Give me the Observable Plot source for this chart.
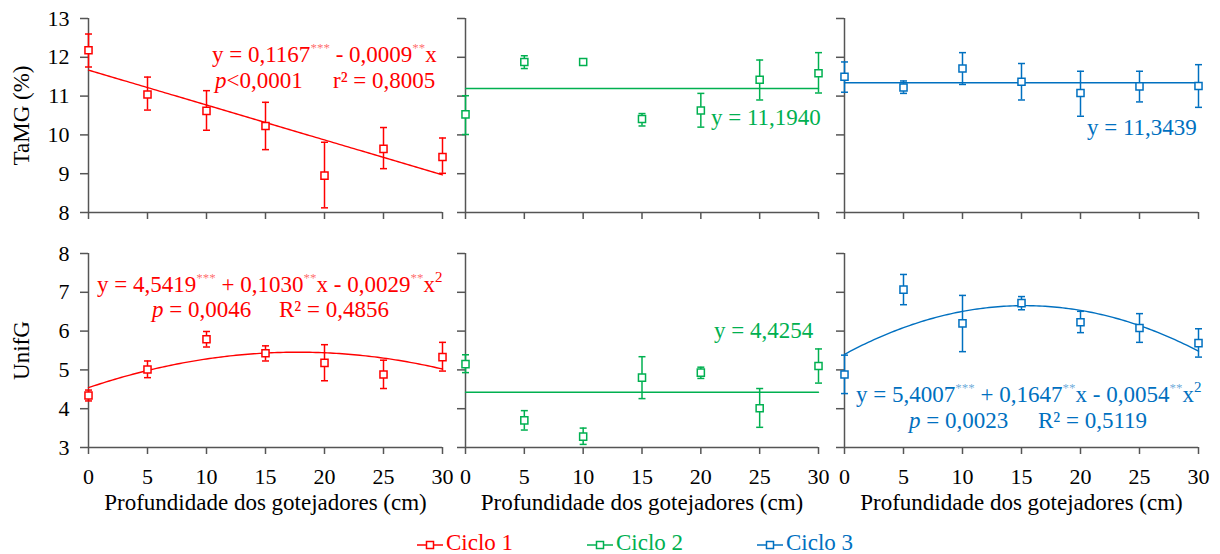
<!DOCTYPE html>
<html><head><meta charset="utf-8">
<script src="https://cdn.jsdelivr.net/npm/d3@7"></script>
<script src="https://cdn.jsdelivr.net/npm/@observablehq/plot@0.6"></script>
<style>
body{margin:0;background:#fff;}
#chart{position:relative;width:1220px;height:554px;overflow:hidden;font-family:"Liberation Serif","Times New Roman",serif;}
.panel{position:absolute;}
.leg{position:absolute;top:529px;height:28px;font-size:23px;line-height:28px;white-space:nowrap;}
.leg svg{vertical-align:middle;margin-right:3px;}
</style></head><body><div id="chart"></div>
<script>
// ---------- data ----------
const depth = [0, 5, 10, 15, 20, 25, 30];
const cycles = ["Ciclo 1", "Ciclo 2", "Ciclo 3"];
const cycleColors = ["#ff0000", "#00b050", "#0070c0"];
const variables = ["TaMG (%)", "UnifG"];
const xTitle = "Profundidade dos gotejadores (cm)";
const yTicksTaMG = [8, 9, 10, 11, 12, 13];
const yTicksUnifG = [3, 4, 5, 6, 7, 8];
const xTicks = [0, 5, 10, 15, 20, 25, 30];

// TaMG (%) means and error bar limits
const taMG_c1 = [12.18, 11.04, 10.62, 10.23, 8.95, 9.64, 9.43];
const taMG_c1_hi = [12.60, 11.49, 11.14, 10.84, 9.81, 10.19, 9.92];
const taMG_c1_lo = [11.75, 10.64, 10.12, 9.62, 8.12, 9.13, 9.01];
const taMG_c2 = [10.53, 11.88, 11.88, 10.41, 10.63, 11.42, 11.59];
const taMG_c2_hi = [11.01, 12.04, 11.96, 10.55, 11.07, 11.93, 12.12];
const taMG_c2_lo = [10.01, 11.71, 11.81, 10.23, 10.20, 10.90, 11.08];
const taMG_c3 = [11.50, 11.22, 11.71, 11.37, 11.08, 11.25, 11.26];
const taMG_c3_hi = [11.88, 11.39, 12.12, 11.84, 11.64, 11.64, 11.81];
const taMG_c3_lo = [11.10, 11.07, 11.30, 10.90, 10.48, 10.85, 10.71];

// UnifG means and error bar limits
const unifG_c1 = [4.34, 5.01, 5.79, 5.43, 5.18, 4.88, 5.33];
const unifG_c1_hi = [4.48, 5.23, 5.99, 5.62, 5.65, 5.25, 5.71];
const unifG_c1_lo = [4.20, 4.80, 5.59, 5.23, 4.72, 4.52, 4.97];
const unifG_c2 = [5.15, 3.70, 3.28, 4.80, 4.93, 4.01, 5.10];
const unifG_c2_hi = [5.39, 3.95, 3.50, 5.34, 5.07, 4.52, 5.54];
const unifG_c2_lo = [4.93, 3.45, 3.08, 4.26, 4.78, 3.52, 4.66];
const unifG_c3 = [4.88, 7.07, 6.20, 6.72, 6.23, 6.08, 5.69];
const unifG_c3_hi = [5.38, 7.46, 6.92, 6.89, 6.51, 6.45, 6.06];
const unifG_c3_lo = [4.39, 6.68, 5.47, 6.55, 5.96, 5.71, 5.33];

// fitted models: [intercept, linear, quadratic] (in plotted units)
const fitTaMG_c1 = [11.67, -0.09, 0];
const fitTaMG_c2 = [11.194, 0, 0];
const fitTaMG_c3 = [11.3439, 0, 0];
const fitUnifG_c1 = [4.5419, 0.1030, -0.0029];
const fitUnifG_c2 = [4.4254, 0, 0];
const fitUnifG_c3 = [5.4007, 0.1647, -0.0054];

// ---------- layout ----------
const cols = [
  {left: 0, ml: 88, mr: 10, pw: 354},
  {left: 450, ml: 15, mr: 10, pw: 353},
  {left: 828, ml: 16, mr: 22, pw: 354}
];
const rows = [
  {top: 0, mt: 18, ph: 194, mb: 14, domain: [8, 13], ticks: yTicksTaMG},
  {top: 235, mt: 18, ph: 194, mb: 76, domain: [3, 8], ticks: yTicksUnifG}
];
const series = [
  [[taMG_c1, taMG_c1_lo, taMG_c1_hi, fitTaMG_c1], [taMG_c2, taMG_c2_lo, taMG_c2_hi, fitTaMG_c2], [taMG_c3, taMG_c3_lo, taMG_c3_hi, fitTaMG_c3]],
  [[unifG_c1, unifG_c1_lo, unifG_c1_hi, fitUnifG_c1], [unifG_c2, unifG_c2_lo, unifG_c2_hi, fitUnifG_c2], [unifG_c3, unifG_c3_lo, unifG_c3_hi, fitUnifG_c3]]
];

// annotation texts (segments: [text, kind]) with their placement
const notes = [
  [
    [{x: 212, y: 62, segs: [["y = 0,1167"], ["***", "sup"], [" - 0,0009"], ["**", "sup"], ["x"]]},
     {x: 215, y: 88, segs: [["p", "i"], ["<0,0001"], ["r² = 0,8005", "at", 333]]}],
    [{x: 261, y: 125, segs: [["y = 11,1940"]]}],
    [{x: 259, y: 135, segs: [["y = 11,3439"]]}]
  ],
  [
    [{x: 97, y: 57, segs: [["y = 4,5419"], ["***", "sup"], [" + 0,1030"], ["**", "sup"], ["x - 0,0029"], ["**", "sup"], ["x"], ["2", "sup2"]]},
     {x: 152, y: 82, segs: [["p", "i"], [" = 0,0046"], ["R² = 0,4856", "at", 279]]}],
    [{x: 264, y: 103, segs: [["y = 4,4254"]]}],
    [{x: 28, y: 167, segs: [["y = 5,4007"], ["***", "sup"], [" + 0,1647"], ["**", "sup"], ["x - 0,0054"], ["**", "sup"], ["x"], ["2", "sup2"]]},
     {x: 81, y: 193, segs: [["p", "i"], [" = 0,0023"], ["R² = 0,5119", "at", 210]]}]
  ]
];

const axisColor = "#555";
const capSymbol = {
  draw(ctx, size) { const r = Math.sqrt(size / Math.PI); ctx.moveTo(-r, 0); ctx.lineTo(r, 0); }
};

const chart = document.getElementById("chart");

rows.forEach((row, ri) => {
  cols.forEach((col, ci) => {
    const [mean, lo, hi, fit] = series[ri][ci];
    const color = cycleColors[ci];
    const data = depth.map((x, i) => ({x, y: mean[i], lo: lo[i], hi: hi[i]}));
    const curve = d3.range(0, 30.0001, 0.25).map(x => ({x, y: fit[0] + fit[1] * x + fit[2] * x * x}));
    const svg = Plot.plot({
      width: col.ml + col.pw + col.mr,
      height: row.mt + row.ph + row.mb,
      marginLeft: col.ml, marginRight: col.mr, marginTop: row.mt, marginBottom: row.mb,
      style: {fontFamily: '"Liberation Serif","Times New Roman",serif', fontSize: "22px", background: "transparent", overflow: "visible", color: "#000"},
      x: {domain: [0, 30]},
      y: {domain: row.domain},
      marks: [
        Plot.axisY({ticks: row.ticks, tickSize: 8, tickPadding: 11, stroke: axisColor, strokeWidth: 1.5,
          tickFormat: ci === 0 ? d => String(d) : () => "",
          label: ci === 0 ? variables[ri] : null, labelAnchor: "center", labelArrow: "none", labelOffset: 76}),
        Plot.axisX({ticks: xTicks, tickSize: 7, tickPadding: 14, stroke: axisColor, strokeWidth: 1.5,
          tickFormat: ri === 1 ? d => String(d) : () => "",
          label: ri === 1 ? xTitle : null, labelAnchor: "center", labelArrow: "none", labelOffset: 62}),
        Plot.ruleX([0], {stroke: axisColor, strokeWidth: 1.5}),
        Plot.ruleY([row.domain[0]], {stroke: axisColor, strokeWidth: 1.5}),
        Plot.line(curve, {x: "x", y: "y", stroke: color, strokeWidth: 1.4}),
        Plot.ruleX(data, {x: "x", y1: "lo", y2: "hi", stroke: color, strokeWidth: 1.5}),
        Plot.dot(data, {x: "x", y: "hi", symbol: capSymbol, r: 3.5, stroke: color, strokeWidth: 1.5}),
        Plot.dot(data, {x: "x", y: "lo", symbol: capSymbol, r: 3.5, stroke: color, strokeWidth: 1.5}),
        Plot.dot(data, {x: "x", y: "y", symbol: "square", r: 4, fill: "white", stroke: color, strokeWidth: 1.5})
      ]
    });
    svg.classList.add("panel");
    svg.style.left = col.left + "px";
    svg.style.top = row.top + "px";
    // bigger axis titles
    d3.select(svg).selectAll("g[aria-label='y-axis label'] text, g[aria-label='x-axis label'] text").attr("font-size", 23);
    // annotations
    const s = d3.select(svg);
    notes[ri][ci].forEach(line => {
      const t = s.append("text").attr("x", line.x).attr("y", line.y)
        .attr("fill", color).attr("font-size", 23).attr("text-anchor", "start").style("white-space", "pre");
      let prevSup = false;
      line.segs.forEach(([txt, kind, ax]) => {
        const sp = t.append("tspan").text(txt);
        const isSup = kind === "sup" || kind === "sup2";
        if (isSup) {
          sp.attr("font-size", kind === "sup" ? 13 : 15);
          if (kind === "sup") sp.attr("fill-opacity", 0.6);
          if (!prevSup) sp.attr("dy", -10);
        } else if (prevSup) {
          sp.attr("dy", 10);
        }
        if (kind === "i") sp.attr("font-style", "italic");
        if (kind === "at") sp.attr("x", ax);
        prevSup = isSup;
      });
    });
    chart.appendChild(svg);
  });
});

// legend
const legX = [417, 587, 757];
cycles.forEach((name, i) => {
  const d = document.createElement("div");
  d.className = "leg";
  d.style.left = legX[i] + "px";
  d.style.color = cycleColors[i];
  d.innerHTML = `<svg width="26" height="12"><line x1="0" y1="6" x2="26" y2="6" stroke="${cycleColors[i]}" stroke-width="1.5"/><rect x="9.5" y="2.5" width="7" height="7" fill="white" stroke="${cycleColors[i]}" stroke-width="1.5"/></svg>${name}`;
  chart.appendChild(d);
});
</script></body></html>
